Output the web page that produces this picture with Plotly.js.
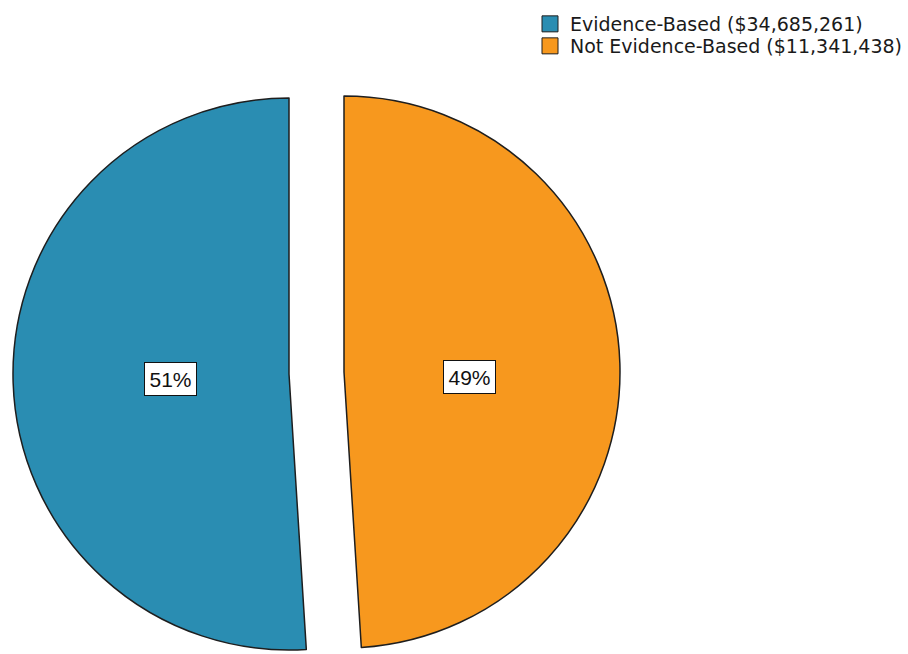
<!DOCTYPE html>
<html>
<head>
<meta charset="utf-8">
<script src="https://cdn.plot.ly/plotly-3.0.1.min.js"></script>
<style>html,body{margin:0;padding:0;background:#fff;}#chart{width:908px;height:654px;}</style>
</head>
<body>
<div id="chart"></div>
<script>
// ---- data ----
const labels = ['Evidence-Based ($34,685,261)', 'Not Evidence-Based ($11,341,438)'];
const shares = [51, 49];
const shareText = ['51%', '49%'];
const sliceColors = ['#2a8db2', '#f7981e'];

// ---- geometry (pixels) ----
const W = 908, H = 654;
const R = 276;
const centers = [[289, 374], [344, 372]]; // exploded slice centres
const edge = '#1e1e1e';
const clear = 'rgba(0,0,0,0)';
// pie drawing order: second category runs clockwise from 12 o'clock, first fills the left side
const drawOrder = [1, 0];

function domainFor(c) {
  return {
    x: [(c[0] - R) / W, (c[0] + R) / W],
    y: [(H - c[1] - R) / H, (H - c[1] + R) / H]
  };
}

const traces = [];
// each slice drawn in its own exploded position
for (let i = 0; i < labels.length; i++) {
  traces.push({
    type: 'pie',
    labels: drawOrder.map(j => j === i ? labels[j] : labels[j] + ' (other)'),
    values: drawOrder.map(j => shares[j]), sort: false,
    direction: 'clockwise', rotation: 0,
    textinfo: 'none', hoverinfo: 'skip', showlegend: false,
    marker: {
      colors: drawOrder.map(j => j === i ? sliceColors[j] : clear),
      line: {color: drawOrder.map(j => j === i ? edge : clear),
             width: drawOrder.map(j => j === i ? 1.5 : 0)}
    },
    domain: domainFor(centers[i])
  });
}
// legend entries (one legend box per category)
const legendTops = [5, 27];
for (let i = 0; i < labels.length; i++) {
  traces.push({
    type: 'scatter', mode: 'markers', x: [null], y: [null],
    name: labels[i], showlegend: true,
    legend: i === 0 ? 'legend' : 'legend2',
    marker: {symbol: 'square', size: 16, color: sliceColors[i], line: {color: edge, width: 1}},
    hoverinfo: 'skip'
  });
}

// percentage labels in boxes
const annotations = [];
const offsets = [-0.43, 0.455];
for (let i = 0; i < shares.length; i++) {
  const px = centers[i][0] + offsets[i] * R;
  const py = centers[i][1] + 5;
  annotations.push({
    xref: 'paper', yref: 'paper', x: px / W, y: 1 - py / H,
    text: shareText[i], showarrow: false,
    font: {family: 'Liberation Sans, Arial, sans-serif', size: 21, color: '#111'},
    bgcolor: '#ffffff', bordercolor: '#111', borderwidth: 1, borderpad: 4.5,
    xanchor: 'center', yanchor: 'middle'
  });
}

const legendFont = {family: 'DejaVu Sans, sans-serif', size: 19, color: '#1a1a1a'};
function legendAt(top) {
  return {
    x: 530 / W, xanchor: 'left', y: 1 - top / H, yanchor: 'top',
    font: legendFont, bgcolor: 'rgba(0,0,0,0)', borderwidth: 0,
    itemsizing: 'trace', itemclick: false, itemdoubleclick: false
  };
}

const layout = {
  width: W, height: H,
  margin: {l: 0, r: 0, t: 0, b: 0, autoexpand: false},
  paper_bgcolor: '#ffffff', plot_bgcolor: 'rgba(0,0,0,0)',
  xaxis: {visible: false, range: [0, 1]},
  yaxis: {visible: false, range: [0, 1]},
  showlegend: true,
  legend: legendAt(legendTops[0]),
  legend2: legendAt(legendTops[1]),
  annotations: annotations
};

Plotly.newPlot('chart', traces, layout, {displayModeBar: false, staticPlot: true});
</script>
</body>
</html>
